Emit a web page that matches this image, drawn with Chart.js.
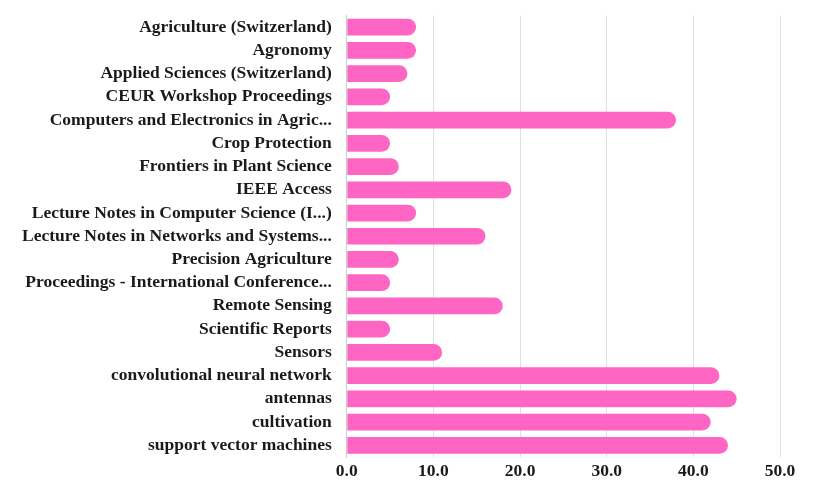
<!DOCTYPE html>
<html>
<head>
<meta charset="utf-8">
<script src="https://cdn.jsdelivr.net/npm/chart.js@4"></script>
<style>
  html, body { margin: 0; padding: 0; background: #fff; }
  #wrap { width: 821px; height: 491px; }
</style>
</head>
<body>
<div id="wrap"><canvas id="grafico"></canvas></div>
<script>
// Datos
const categorias = [
  "Agriculture (Switzerland)",
  "Agronomy",
  "Applied Sciences (Switzerland)",
  "CEUR Workshop Proceedings",
  "Computers and Electronics in Agric...",
  "Crop Protection",
  "Frontiers in Plant Science",
  "IEEE Access",
  "Lecture Notes in Computer Science (I...)",
  "Lecture Notes in Networks and Systems...",
  "Precision Agriculture",
  "Proceedings - International Conference...",
  "Remote Sensing",
  "Scientific Reports",
  "Sensors",
  "convolutional neural network",
  "antennas",
  "cultivation",
  "support vector machines"
];
const valores = [8, 8, 7, 5, 38, 5, 6, 19, 8, 16, 6, 5, 18, 5, 11, 43, 45, 42, 44];
const ejeMin = 0;
const ejeMax = 50;
const ejePaso = 10;

const fuente = { family: "'Liberation Serif', 'Times New Roman', serif", size: 17.5, weight: "bold" };

new Chart(document.getElementById("grafico"), {
  type: "bar",
  data: {
    labels: categorias,
    datasets: [{
      data: valores,
      backgroundColor: "#ff66c4",
      borderRadius: 9,
      borderSkipped: "start",
      categoryPercentage: 0.9,
      barPercentage: 0.8
    }]
  },
  options: {
    indexAxis: "y",
    responsive: true,
    maintainAspectRatio: false,
    animation: false,
    layout: { padding: { top: 4, right: 41, bottom: 5, left: 17 } },
    plugins: { legend: { display: false }, tooltip: { enabled: false } },
    scales: {
      x: {
        min: ejeMin,
        max: ejeMax,
        ticks: {
          stepSize: ejePaso,
          color: "#1a1a1a",
          font: fuente,
          padding: 4,
          callback: v => Number(v).toFixed(1)
        },
        grid: { color: "#e0e0e0", lineWidth: 1, drawTicks: false },
        border: { display: false }
      },
      y: {
        ticks: { color: "#1a1a1a", font: fuente, padding: 5, autoSkip: false },
        grid: { display: false, drawTicks: true, tickLength: 10 },
        border: { display: true, color: "#cccccc" }
      }
    }
  }
});
</script>
</body>
</html>
